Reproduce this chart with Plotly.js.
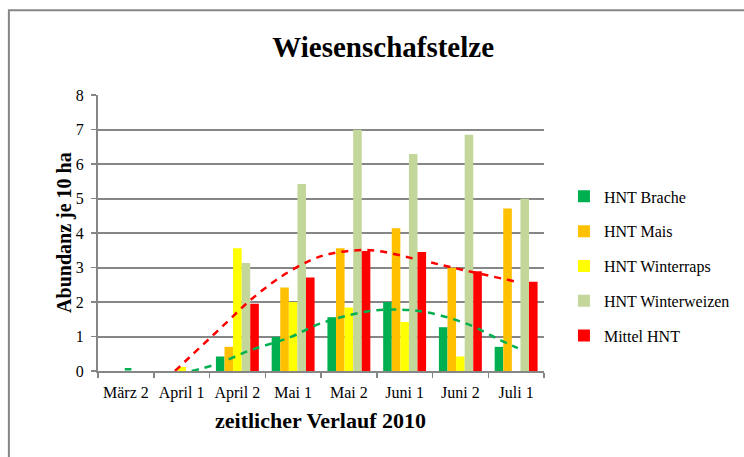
<!DOCTYPE html>
<html>
<head>
<meta charset="utf-8">
<script src="https://cdn.plot.ly/plotly-3.0.1.min.js"></script>
<style>html,body{margin:0;padding:0;background:#fff;}#chart{width:744px;height:457px;}</style>
</head>
<body>
<div id="chart"></div>
<script>
// categories
const categories = ["März 2", "April 1", "April 2", "Mai 1", "Mai 2", "Juni 1", "Juni 2", "Juli 1"];
// series values (Abundanz je 10 ha)
const brache       = [0, 0, 0.42, 0.99, 1.56, 2.00, 1.27, 0.70];
const mais         = [0, 0, 0.70, 2.42, 3.56, 4.14, 2.99, 4.71];
const winterraps   = [0, 0.12, 3.56, 2.00, 1.84, 1.42, 0.42, 0];
const winterweizen = [0, 0, 3.13, 5.42, 6.99, 6.29, 6.85, 4.99];
const mittel       = [0, 0, 1.95, 2.71, 3.48, 3.45, 2.89, 2.59];
// trend lines (x = category position)
const trendMittelX = [0.88, 1.15, 1.75, 2.23, 2.77, 3.30, 3.67, 4.39, 5.29, 6.07, 6.97];
const trendMittelY = [0.00, 0.41, 1.32, 2.05, 2.72, 3.20, 3.40, 3.50, 3.21, 2.92, 2.60];
const trendBracheX = [-0.02, 0.10, null, 1.18, 1.63, 2.23, 2.95, 3.40, 3.79, 4.39, 4.93, 5.47, 6.19, 6.67, 7.03];
const trendBracheY = [0.05, 0.05, null, 0.00, 0.20, 0.60, 0.98, 1.32, 1.53, 1.74, 1.78, 1.68, 1.32, 0.93, 0.66];

const names = ["HNT Brache", "HNT Mais", "HNT Winterraps", "HNT Winterweizen", "Mittel HNT"];
const colors = ["#00B050", "#FFC000", "#FFFF00", "#C4D79B", "#FF0000"];
const series = [brache, mais, winterraps, winterweizen, mittel];

const FONT = "Liberation Serif, DejaVu Serif, serif";

const traces = series.map((s, i) => ({
  type: "bar", x: categories, y: s, name: names[i],
  marker: {color: colors[i]}, legendgroup: "g" + i,
  hoverinfo: "x+y+name"
}));
traces.push({
  type: "scatter", mode: "lines", x: trendMittelX, y: trendMittelY, xaxis: "x2",
  line: {color: "#FF0000", width: 2.5, dash: "7px,6px", shape: "spline"}, showlegend: false
});
traces.push({
  type: "scatter", mode: "lines", x: trendBracheX, y: trendBracheY, xaxis: "x2",
  connectgaps: false,
  line: {color: "#00B050", width: 2.5, dash: "7px,6px", shape: "spline"}, showlegend: false
});

const layout = {
  width: 744, height: 457,
  margin: {l: 98, r: 200, t: 95, b: 86},
  paper_bgcolor: "#fff", plot_bgcolor: "#fff",
  font: {family: FONT, color: "#000", size: 16},
  title: {text: "<b>Wiesenschafstelze</b>", x: 0.515, xanchor: "center", y: 0.897, yanchor: "middle",
          font: {family: FONT, size: 29, color: "#000"}},
  barmode: "group", bargap: 0.23, bargroupgap: 0,
  xaxis: {
    type: "category", tickson: "boundaries", ticks: "outside", ticklen: 5, tickwidth: 1.5, tickcolor: "#868686",
    showline: true, linecolor: "#868686", linewidth: 2, showgrid: false, automargin: false,
    tickfont: {family: FONT, size: 16, color: "#000"}, ticklabelstandoff: 6, tickangle: 0,
    range: [-0.5, 7.5], fixedrange: true
  },
  xaxis2: {overlaying: "x", range: [-0.5, 7.5], visible: false, fixedrange: true},
  yaxis: {
    range: [0, 8], dtick: 1, ticks: "outside", ticklen: 5, tickwidth: 1.5, tickcolor: "#868686",
    showline: true, linecolor: "#868686", linewidth: 2, automargin: false,
    showgrid: true, gridcolor: "#868686", gridwidth: 2, zeroline: false,
    tickfont: {family: FONT, size: 16, color: "#000"}, ticklabelstandoff: 4,
    fixedrange: true
  },
  annotations: [
    {text: "<b>Abundanz je 10 ha</b>", xref: "paper", yref: "paper", x: -0.074, y: 0.504,
     xanchor: "center", yanchor: "middle", textangle: -90, showarrow: false,
     font: {family: FONT, size: 20, color: "#000"}},
    {text: "<b>zeitlicher Verlauf 2010</b>", xref: "paper", yref: "paper", x: 0.498, y: -0.178,
     xanchor: "center", yanchor: "middle", showarrow: false,
     font: {family: FONT, size: 22, color: "#000"}}
  ],
  legend: {xref: "container", yref: "container", x: 0.758, xanchor: "left", y: 0.418, yanchor: "middle",
           traceorder: "grouped", tracegroupgap: 11,
           font: {family: FONT, size: 16, color: "#000"}, itemwidth: 30},
  showlegend: true,
  shapes: [{type: "rect", xref: "paper", yref: "paper", x0: -0.1998, x1: 1.5, y0: -0.5, y1: 1.307,
            line: {color: "#868686", width: 2}, fillcolor: "rgba(0,0,0,0)", layer: "below"}]
};

Plotly.newPlot("chart", traces, layout, {displayModeBar: false, staticPlot: true});
</script>
</body>
</html>
